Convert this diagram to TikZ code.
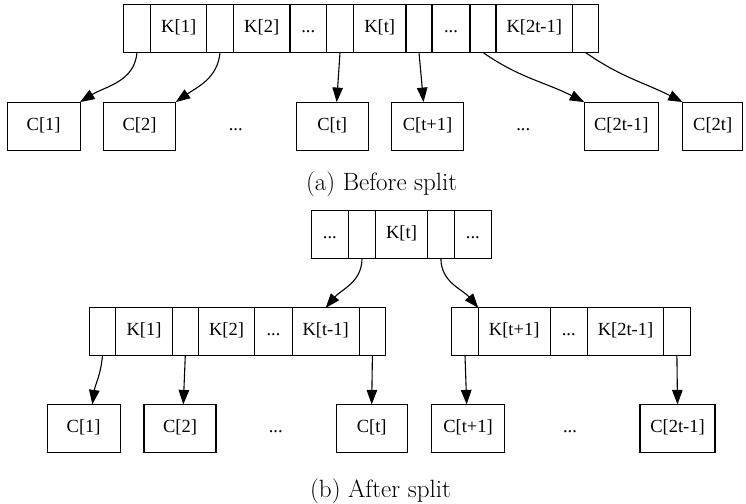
\documentclass[tikz,border=0pt]{standalone}
\usepackage{fontspec}
\newfontfamily\gvfont{Liberation Serif}
\usetikzlibrary{arrows.meta,positioning}

\begin{document}
\begin{tikzpicture}[x=1pt, y=1pt,
  cell/.style={draw, line width=1.1pt, minimum height=47.6pt, inner sep=0pt, outer sep=0pt, text height=12.5pt, text depth=4pt, font=\gvfont\fontsize{18.5}{22}\selectfont},
  child/.style={cell, minimum height=48.2pt},
  gap/.style={inner sep=0pt, text height=12.5pt, text depth=4pt, font=\gvfont\fontsize{18.5}{22}\selectfont},
  ptr/.style={-{Triangle[length=14.5pt, width=10.5pt]}, line width=1.1pt},
  subcap/.style={font=\fontsize{25}{29}\selectfont}
]
  \useasboundingbox (0,0) rectangle (746,503);

  %% (a) full node before the split
  \node[cell, minimum width=27.4pt] (p0)  at (137.0,474.3) {};
  \node[cell, minimum width=56.0pt] (k1)  at (178.7,474.3) {K[1]};
  \node[cell, minimum width=26.6pt] (p1)  at (220.0,474.3) {};
  \node[cell, minimum width=56.7pt] (k2)  at (261.7,474.3) {K[2]};
  \node[cell, minimum width=36.7pt] (d1)  at (308.3,474.3) {...};
  \node[cell, minimum width=26.6pt] (p2)  at (340.0,474.3) {};
  \node[cell, minimum width=52.7pt] (kt)  at (379.7,474.3) {K[t]};
  \node[cell, minimum width=26.0pt] (p3)  at (419.0,474.3) {};
  \node[cell, minimum width=38.0pt] (d2)  at (451.0,474.3) {...};
  \node[cell, minimum width=26.0pt] (p4)  at (483.0,474.3) {};
  \node[cell, minimum width=76.7pt] (k2t) at (534.3,474.3) {K[2t-1]};
  \node[cell, minimum width=25.6pt] (p5)  at (585.5,474.3) {};

  %% (a) children
  \node[child, minimum width=72.7pt] (c1)   at (43.7,376.8)  {C[1]};
  \node[child, minimum width=72.4pt] (c2)   at (139.5,376.8) {C[2]};
  \node[gap] (cdots1) at (235.7,376.8) {...};
  \node[child, minimum width=72.3pt] (ct)   at (332.2,376.8) {C[t]};
  \node[child, minimum width=71.6pt] (ct1)  at (427.5,376.8) {C[t+1]};
  \node[gap] (cdots2) at (523.3,376.8) {...};
  \node[child, minimum width=74.0pt] (c2t1) at (621.3,376.8) {C[2t-1]};
  \node[child, minimum width=60.0pt] (c2t)  at (712.7,376.8) {C[2t]};

  \draw[ptr] (p0.south) to[out=-95, in=32] (c1.north east);
  \draw[ptr] (p1.south) to[out=-95, in=35] (c2.north east);
  \draw[ptr] (p2.south) -- ([xshift=4.5pt]ct.north);
  \draw[ptr] (p3.south) -- ([xshift=-4pt]ct1.north);
  \draw[ptr] (p4.south) to[out=-35, in=153] (c2t1.north west);
  \draw[ptr] (p5.south) to[out=-35, in=153] (c2t.north west);

  \node[subcap] (capa) at (381.7,319) {(a) Before split};

  %% (b) parent after the split
  \node[cell, minimum width=37.7pt] (bd1) at (329.9,268.5) {...};
  \node[cell, minimum width=26.6pt] (bp0) at (362.0,268.5) {};
  \node[cell, minimum width=52.4pt] (bkt) at (401.5,268.5) {K[t]};
  \node[cell, minimum width=26.3pt] (bp1) at (440.9,268.5) {};
  \node[cell, minimum width=37.7pt] (bd2) at (472.9,268.5) {...};

  %% (b) left half
  \node[cell, minimum width=26.4pt] (lp0) at (102.5,171.3) {};
  \node[cell, minimum width=56.6pt] (lk1) at (144.0,171.3) {K[1]};
  \node[cell, minimum width=26.0pt] (lp1) at (185.3,171.3) {};
  \node[cell, minimum width=56.4pt] (lk2) at (226.5,171.3) {K[2]};
  \node[cell, minimum width=37.6pt] (ld)  at (273.5,171.3) {...};
  \node[cell, minimum width=66.7pt] (lkt) at (325.7,171.3) {K[t-1]};
  \node[cell, minimum width=26.7pt] (lp2) at (372.4,171.3) {};

  %% (b) right half
  \node[cell, minimum width=26.6pt] (rp0) at (465.0,171.3) {};
  \node[cell, minimum width=71.7pt] (rk1) at (514.2,171.3) {K[t+1]};
  \node[cell, minimum width=37.3pt] (rd)  at (568.7,171.3) {...};
  \node[cell, minimum width=76.4pt] (rk2) at (625.5,171.3) {K[2t-1]};
  \node[cell, minimum width=26.3pt] (rp1) at (676.9,171.3) {};

  \draw[ptr] (bp0.south) to[out=-90, in=50] (lkt.north);
  \draw[ptr] (bp1.south) to[out=-90, in=130] (rp0.north east);

  %% (b) children
  \node[child, minimum width=72.7pt] (bc1)   at (83.7,74.5)  {C[1]};
  \node[child, minimum width=72.0pt] (bc2)   at (180.0,74.5) {C[2]};
  \node[gap] (bdots1) at (275.7,74.5) {...};
  \node[child, minimum width=71.3pt] (bct)   at (371.7,74.5) {C[t]};
  \node[child, minimum width=72.6pt] (bct1)  at (468.0,74.5) {C[t+1]};
  \node[gap] (bdots2) at (570.0,74.5) {...};
  \node[child, minimum width=75.0pt] (bc2t1) at (677.5,74.5) {C[2t-1]};

  \draw[ptr] (lp0.south) to[out=-95, in=82] ([xshift=8.6pt]bc1.north);
  \draw[ptr] (lp1.south) -- ([xshift=3.3pt]bc2.north);
  \draw[ptr] (lp2.south) -- (bct.north);
  \draw[ptr] (rp0.south) -- ([xshift=-1.3pt]bct1.north);
  \draw[ptr] (rp1.south) -- (bc2t1.north);

  \node[subcap] (capb) at (380.5,11.3) {(b) After split};
\end{tikzpicture}
\end{document}
